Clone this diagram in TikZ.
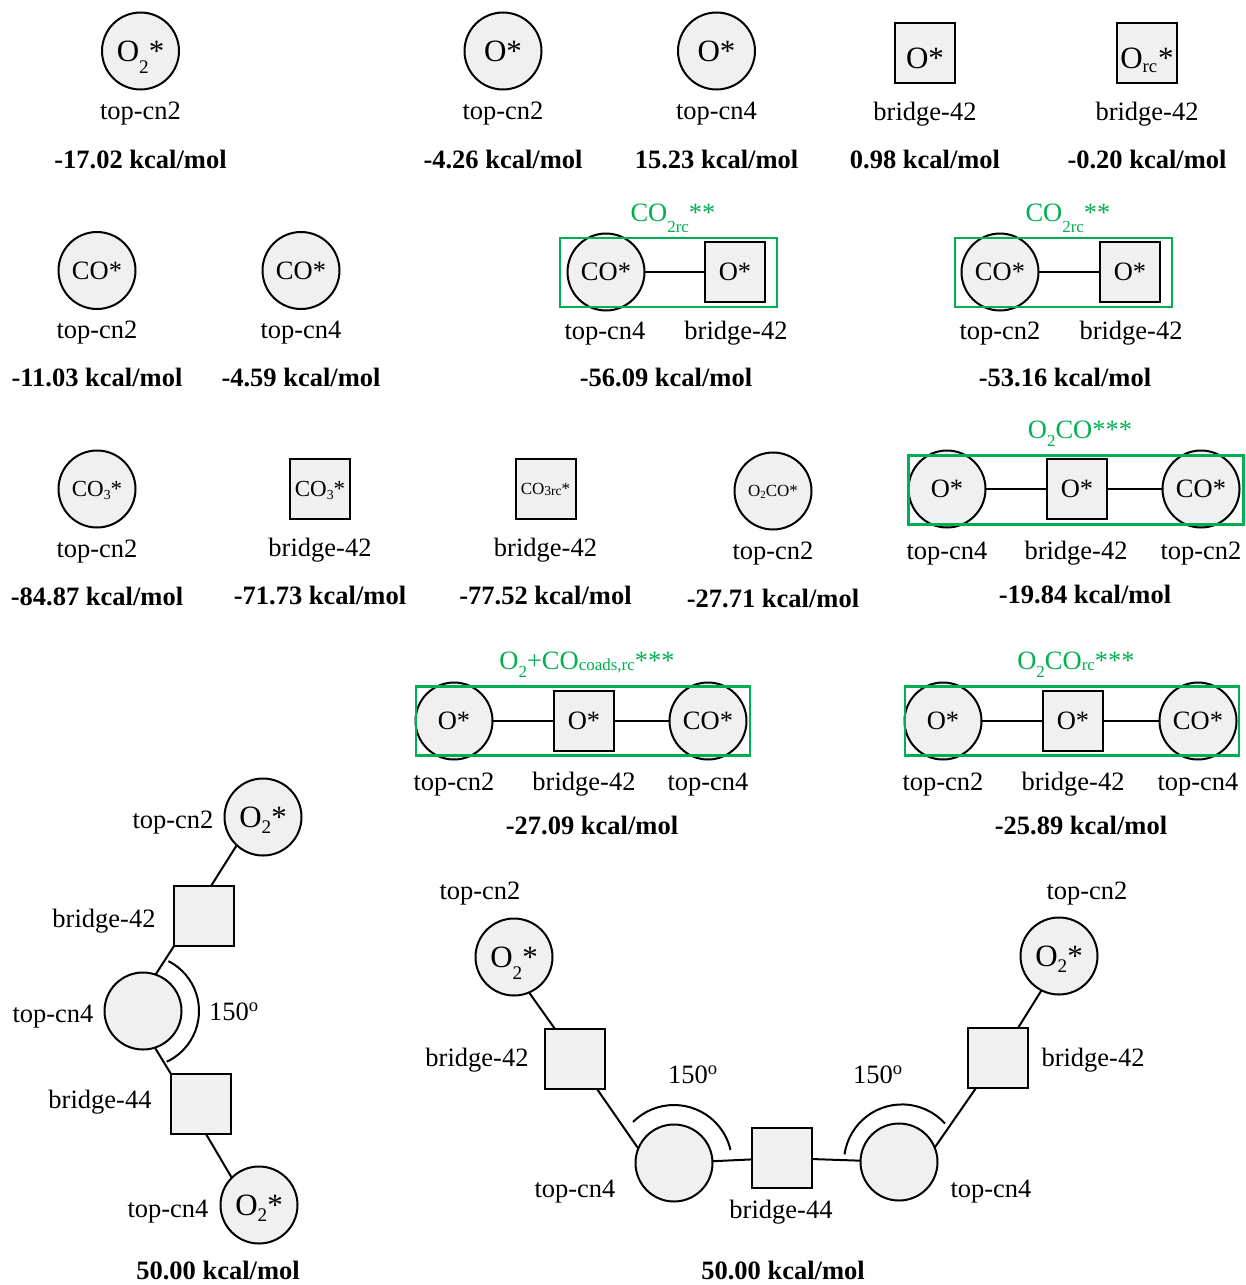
\documentclass[tikz,border=0pt]{standalone}
\usepackage{fontspec}
\setmainfont{Liberation Serif}
\usepackage{tikz}
\usetikzlibrary{positioning}
\definecolor{ringfill}{HTML}{F0F0F0}
\definecolor{ringgreen}{HTML}{00B050}
\newcommand{\subt}[3][.64]{\smash{\raisebox{-#2em}{\scalebox{#1}{#3}}}}
\newcommand{\fsz}[1]{\fontsize{#1}{#1}\selectfont}

\begin{document}
\begin{tikzpicture}[
  x=1pt,y=-1pt,
  node distance=9pt,
  site/.style={draw,line width=2pt,fill=ringfill,inner sep=0pt,outer sep=0pt,font=\fsz{31}},
  topsite/.style={site,circle,minimum size=77pt},
  brsite/.style={site,rectangle,minimum size=60pt},
  lowtxt/.style={text height=30pt,text depth=0pt},
  lab/.style={inner sep=0pt,outer sep=0pt,text height=20.5pt,text depth=3.5pt,font=\fsz{26.5}},
  energy/.style={inner sep=0pt,outer sep=0pt,text height=20.5pt,text depth=3.5pt,font=\fsz{26.5}\bfseries},
  grnbox/.style={draw=ringgreen,line width=2.5pt,minimum height=69pt,inner sep=0pt},
  grntxt/.style={inner sep=0pt,text=ringgreen,font=\fsz{26.5}},
  link/.style={line width=2pt}
]
\useasboundingbox (0,0) rectangle (1245,1285);

% first row
\node[topsite] (oA) at (140.5,51) {O\subt[.62]{.39}{2}*};
\node[lab,below=of oA] (oAl) {top-cn2};
\node[energy,below=25pt of oAl] (oAe) {-17.02 kcal/mol};
\node[topsite] (oB) at (503,51) {O*};
\node[lab,below=of oB] (oBl) {top-cn2};
\node[energy,below=25pt of oBl] (oBe) {-4.26 kcal/mol};
\node[topsite] (oC) at (716.5,51) {O*};
\node[lab,below=of oC] (oCl) {top-cn4};
\node[energy,below=25pt of oCl] (oCe) {15.23 kcal/mol};
\node[brsite,lowtxt] (oD) at (925,53) {O*};
\node[lab,below=17pt of oD] (oDl) {bridge-42};
\node[energy,below=24pt of oDl] (oDe) {0.98 kcal/mol};
\node[brsite,lowtxt] (oE) at (1147,53) {O\subt[.6]{.16}{rc}\kern1pt*};
\node[lab,below=17pt of oE] (oEl) {bridge-42};
\node[energy,below=24pt of oEl] (oEe) {-0.20 kcal/mol};

% second row
\node[topsite,font=\fsz{26.5}] (coA) at (97,270.5) {CO*};
\node[lab,below=of coA] (coAl) {top-cn2};
\node[energy,below=24pt of coAl] (coAe) {-11.03 kcal/mol};
\node[topsite,font=\fsz{26.5}] (coB) at (301,270.5) {CO*};
\node[lab,below=of coB] (coBl) {top-cn4};
\node[energy,below=24pt of coBl] (coBe) {-4.59 kcal/mol};

\node[topsite,font=\fsz{26.5}] (pairAc) at (606,272) {CO*};
\node[brsite,font=\fsz{26.5}] (pairAs) at (735,272) {O*};
\draw[link] (pairAc) -- (pairAs);
\node[grnbox,minimum width=217pt] (pairAb) at (668.5,272.5) {};
\node[grntxt] (pairAt) at (673,213) {CO\subt{.42}{2rc}**};
\node[lab] (pairAl) at (605,331) {top-cn4};
\node[lab] (pairAm) at (736,331) {bridge-42};
\node[energy] (pairAe) at (666,378) {-56.09 kcal/mol};

\node[topsite,font=\fsz{26.5}] (pairBc) at (1000,272) {CO*};
\node[brsite,font=\fsz{26.5}] (pairBs) at (1130,272) {O*};
\draw[link] (pairBc) -- (pairBs);
\node[grnbox,minimum width=217pt] (pairBb) at (1063.5,272.5) {};
\node[grntxt] (pairBt) at (1068,213) {CO\subt{.42}{2rc}**};
\node[lab] (pairBl) at (1000,331) {top-cn2};
\node[lab] (pairBm) at (1131,331) {bridge-42};
\node[energy] (pairBe) at (1065,378) {-53.16 kcal/mol};

% third row
\node[topsite,font=\fsz{23}] (cthA) at (97,489) {CO\subt[.6]{.13}{3}*};
\node[lab,below=of cthA] (cthAl) {top-cn2};
\node[energy,below=24pt of cthAl] (cthAe) {-84.87 kcal/mol};
\node[brsite,font=\fsz{23}] (cthB) at (320,489) {CO\subt[.6]{.13}{3}*};
\node[lab,below=17pt of cthB] (cthBl) {bridge-42};
\node[energy,below=24pt of cthBl] (cthBe) {-71.73 kcal/mol};
\node[brsite,font=\fsz{17}] (cthC) at (545.5,489) {CO\subt[.8]{.05}{3rc}*};
\node[lab,below=17pt of cthC] (cthCl) {bridge-42};
\node[energy,below=24pt of cthCl] (cthCe) {-77.52 kcal/mol};
\node[topsite,font=\fsz{17}] (oco) at (773,491) {O\subt{.1}{2}CO*};
\node[lab,below=of oco] (ocol) {top-cn2};
\node[energy,below=24pt of ocol] (ocoe) {-27.71 kcal/mol};

\node[topsite,font=\fsz{26.5}] (triAa) at (947,489) {O*};
\node[brsite,font=\fsz{26.5}] (triAb) at (1077,489) {O*};
\node[topsite,font=\fsz{26.5}] (triAc) at (1201,489) {CO*};
\draw[link] (triAa) -- (triAb);
\draw[link] (triAb) -- (triAc);
\node[grnbox,minimum width=335pt] (triAr) at (1076,490) {};
\node[grntxt] (triAt) at (1080,430) {O\subt{.3}{2}CO***};
\node[lab] (triAl) at (947,551) {top-cn4};
\node[lab] (triAm) at (1076,551) {bridge-42};
\node[lab] (triAn) at (1201,551) {top-cn2};
\node[energy] (triAe) at (1085,595) {-19.84 kcal/mol};

% fourth row
\node[topsite,font=\fsz{26.5}] (triBa) at (454,721) {O*};
\node[brsite,font=\fsz{26.5}] (triBb) at (584,721) {O*};
\node[topsite,font=\fsz{26.5}] (triBc) at (708,721) {CO*};
\draw[link] (triBa) -- (triBb);
\draw[link] (triBb) -- (triBc);
\node[grnbox,minimum width=334pt] (triBr) at (583,721) {};
\node[grntxt] (triBt) at (587,661) {O\subt{.3}{2}+CO\subt{.05}{coads,rc}***};
\node[lab] (triBl) at (454,782) {top-cn2};
\node[lab] (triBm) at (584,782) {bridge-42};
\node[lab] (triBn) at (708,782) {top-cn4};
\node[energy] (triBe) at (592,826) {-27.09 kcal/mol};

\node[topsite,font=\fsz{26.5}] (triCa) at (943,721) {O*};
\node[brsite,font=\fsz{26.5}] (triCb) at (1073,721) {O*};
\node[topsite,font=\fsz{26.5}] (triCc) at (1198,721) {CO*};
\draw[link] (triCa) -- (triCb);
\draw[link] (triCb) -- (triCc);
\node[grnbox,minimum width=334pt] (triCr) at (1072,721) {};
\node[grntxt] (triCt) at (1076,661) {O\subt{.3}{2}CO\subt{.05}{rc}***};
\node[lab] (triCl) at (943,782) {top-cn2};
\node[lab] (triCm) at (1073,782) {bridge-42};
\node[lab] (triCn) at (1198,782) {top-cn4};
\node[energy] (triCe) at (1081,826) {-25.89 kcal/mol};

% left chain
\node[topsite] (lfA) at (263,817) {O\subt[.62]{.2}{2}*};
\node[brsite] (lfB) at (204,916) {};
\node[topsite] (lfC) at (143,1011) {};
\node[brsite] (lfD) at (201,1104) {};
\node[topsite] (lfE) at (259,1205) {O\subt[.62]{.2}{2}*};
\draw[link] (lfA.227) -- ([xshift=7pt]lfB.north);
\draw[link] (lfC.71) -- (lfB.south west);
\draw[link] (lfC.-72) -- (lfD.north west);
\draw[link] ([xshift=5pt]lfD.south) -- (lfE.135);
\draw[link] (lfC) ++(63:56pt) arc[start angle=63,end angle=-65,radius=56pt];
\node[lab] (lfAl) at (173,820) {top-cn2};
\node[lab] (lfBl) at (104,919) {bridge-42};
\node[lab] (lfCl) at (53,1014) {top-cn4};
\node[lab] (lfCa) at (234,1012) {150\textsuperscript{o}};
\node[lab] (lfDl) at (100,1100) {bridge-44};
\node[lab] (lfEl) at (168,1209) {top-cn4};
\node[energy] (lfe) at (218,1271) {50.00 kcal/mol};

% bottom chain
\node[topsite] (btA) at (514,957) {O\subt[.62]{.39}{2}*};
\node[brsite] (btB) at (575,1059) {};
\node[topsite] (btC) at (674,1163) {};
\node[brsite] (btD) at (782,1158) {};
\node[topsite] (btE) at (899,1162) {};
\node[brsite] (btF) at (998,1058) {};
\node[topsite] (btG) at (1059,956) {O\subt[.62]{.2}{2}*};
\draw[link] (btA.-67) -- ([xshift=-20pt]btB.north);
\draw[link] ([xshift=22pt]btB.south) -- (btC.158);
\draw[link] (btC) -- (btD);
\draw[link] (btD) -- (btE);
\draw[link] (btE.22) -- ([xshift=-22pt]btF.south);
\draw[link] ([xshift=20pt]btF.north) -- (btG.243);
\draw[link] (btC) ++(135:58pt) arc[start angle=135,end angle=13,radius=58pt];
\draw[link] (btE) ++(172:55pt) arc[start angle=172,end angle=42,radius=58pt];
\node[lab] (btAl) at (480,891) {top-cn2};
\node[lab] (btBl) at (477,1058) {bridge-42};
\node[lab] (btCl) at (575,1189) {top-cn4};
\node[lab] (btCa) at (693,1075) {150\textsuperscript{o}};
\node[lab] (btDl) at (781,1210) {bridge-44};
\node[lab] (btEa) at (878,1075) {150\textsuperscript{o}};
\node[lab] (btEl) at (991,1189) {top-cn4};
\node[lab] (btFl) at (1093,1058) {bridge-42};
\node[lab] (btGl) at (1087,891) {top-cn2};
\node[energy] (bte) at (783,1271) {50.00 kcal/mol};
\end{tikzpicture}
\end{document}
